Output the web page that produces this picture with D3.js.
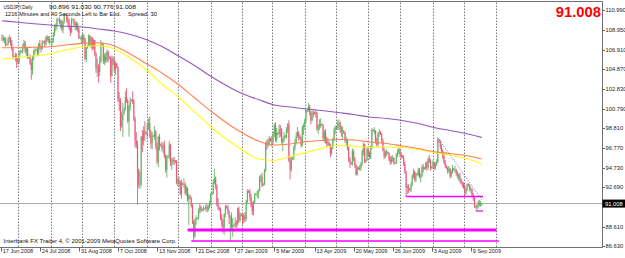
<!DOCTYPE html>
<html><head><meta charset="utf-8">
<script src="https://cdn.jsdelivr.net/npm/d3@7"></script>
<style>html,body{margin:0;padding:0;background:#fff;overflow:hidden}svg{display:block}</style>
</head><body><svg id="c" width="625" height="258"></svg>
<script>
// ---------- DATA ----------
const symbolTitle = "USDJPY,Daily";
const lastOHLC = ["90.896", "91.030", "90.776", "91.008"];
const lastPrice = 91.008;
const timerText = "1216 Minutes and 40 Seconds Left to Bar End.";
const spreadText = "Spread: 30";
const copyrightText = "Interbank FX Trader 4, \u00A9 2001-2009 MetaQuotes Software Corp.";
const firstBarDate = "2008-06-17"; // daily bars incl. Sunday sessions (no Saturdays)

const open = [
108.1,108.1,107.9,108.0,
107.4,107.5,108.0,108.1,107.6,107.0,
106.2,106.2,106.1,105.9,105.6,106.6,
106.7,106.7,107.2,107.6,106.7,107.0,
106.1,106.1,105.5,104.8,106.1,106.7,
106.9,106.9,106.5,107.5,107.1,107.0,
107.7,107.7,107.5,108.2,107.9,108.0,
107.7,107.7,107.7,108.5,109.3,109.3,
110.0,110.0,109.7,109.8,109.0,109.8,
110.5,110.5,110.0,109.7,109.2,108.7,
110.0,110.0,109.6,109.4,109.5,109.0,
108.1,108.1,107.9,108.3,108.0,105.9,
107.0,107.3,108.3,107.4,108.1,107.1,
107.9,106.5,105.0,105.1,104.6,105.7,
107.5,107.4,105.7,106.2,105.8,106.7,
106.1,106.0,104.2,106.0,105.8,104.8,
105.5,105.1,101.8,101.6,99.0,99.6,
100.3,100.8,102.0,101.6,99.5,101.0,
101.6,101.7,101.6,99.8,97.5,97.0,
94.5,93.0,93.0,97.9,97.5,98.5,
98.3,98.2,99.1,99.3,98.3,97.2,
98.0,98.0,98.4,96.9,95.3,97.9,
97.1,97.0,96.7,97.0,95.9,94.5,
95.8,95.9,97.1,95.3,95.3,95.5,
95.4,95.3,93.2,93.3,93.3,92.0,
93.1,93.0,93.0,92.1,92.6,91.4,
91.8,91.6,90.8,89.1,87.6,89.3,
89.5,89.5,90.3,90.7,90.3,90.4,
90.5,90.5,90.7,90.4,90.6,91.0,
92.0,92.1,93.2,93.6,92.8,91.0,
90.6,90.4,89.6,88.9,88.5,89.9,
90.7,90.6,90.2,89.6,89.6,88.6,
88.7,88.8,89.0,88.9,90.5,89.3,
89.9,89.8,89.3,89.8,89.4,91.2,
92.3,92.2,91.7,90.8,90.2,91.2,
92.0,92.0,92.0,92.4,93.7,93.8,
92.9,93.0,94.5,97.3,97.1,97.5,
97.7,97.5,97.4,98.2,99.1,97.6,
98.3,98.2,98.7,98.6,97.4,97.6,
98.0,97.9,98.6,99.2,95.4,94.5,
95.6,95.7,96.8,97.4,98.0,98.3,
98.0,97.7,97.0,98.9,99.0,99.6,
100.5,100.7,101.0,100.4,99.6,100.1,
100.4,100.3,100.4,98.7,99.0,99.2,
99.2,99.1,97.7,98.4,97.5,97.2,
97.3,97.0,96.2,96.8,97.6,98.6,
98.8,98.9,99.3,99.3,98.7,98.5,
98.5,98.3,97.5,97.5,96.8,95.6,
95.2,95.1,96.4,95.6,94.9,94.0,
94.7,94.6,94.7,95.1,96.4,97.1,
95.3,95.5,96.7,96.2,95.8,96.8,
98.6,98.5,98.5,97.4,97.1,98.2,
98.4,98.2,97.5,96.5,95.9,96.3,
96.3,96.2,95.6,95.3,95.6,95.7,
95.2,95.2,96.1,96.4,96.6,96.1,
95.9,95.8,95.1,94.3,92.6,92.7,
92.5,92.4,93.0,93.9,94.3,93.5,
94.1,94.0,94.5,93.8,93.9,94.8,
94.6,94.7,95.2,94.7,95.6,95.4,
94.7,94.8,95.2,94.7,95.1,95.3,
97.6,97.4,96.9,96.4,95.9,95.3,
94.9,94.7,94.4,94.6,93.9,94.3,
94.6,94.5,94.5,94.2,93.9,93.9,
93.6,93.1,93.0,92.8,92.1,92.5,
93.0,92.9,92.5,92.5,91.9,91.6,
90.7,90.6,90.9,91.1,90.9,90.896];

const high = [
108.5,108.4,108.2,108.2,
107.5,108.2,108.4,108.2,107.9,107.2,
106.3,106.6,106.5,106.1,106.8,106.9,
106.8,107.5,107.9,107.8,107.2,107.1,
106.2,106.4,105.9,106.3,106.9,107.1,
107.0,107.1,107.6,107.9,107.3,107.9,
107.8,107.9,108.3,108.4,108.3,108.3,
107.8,108.1,108.7,109.5,109.6,110.2,
110.1,110.3,110.0,110.0,109.9,110.7,
110.6,110.6,110.3,110.1,109.4,110.2,
110.1,110.1,109.8,109.8,109.7,109.2,
108.2,108.4,108.6,108.5,108.1,107.2,
107.4,108.5,108.4,108.3,108.2,108.0,
107.9,106.6,106.0,105.4,106.2,107.9,
107.6,107.6,106.5,106.6,106.9,106.8,
106.2,106.2,106.3,106.2,106.0,105.7,
105.5,105.2,102.5,101.9,100.5,101.4,
100.9,102.6,102.9,101.8,101.2,102.0,
101.8,102.6,101.8,100.0,98.4,97.5,
94.6,94.3,98.0,98.6,99.0,99.5,
98.4,99.3,99.8,100.0,98.6,98.4,
98.1,99.0,98.6,97.3,98.0,98.2,
97.2,97.4,97.3,97.5,96.1,96.0,
96.0,97.5,97.2,95.7,95.8,95.8,
95.5,95.5,93.6,93.8,93.4,93.5,
93.2,93.6,93.2,92.9,92.7,92.0,
91.9,91.7,91.0,89.3,89.5,89.8,
89.6,90.5,91.0,90.8,90.5,90.8,
90.6,91.0,90.9,90.9,91.3,92.1,
92.2,93.5,94.6,93.8,93.0,91.6,
90.7,90.6,89.9,89.4,90.0,90.9,
90.8,90.9,90.3,89.8,90.1,89.5,
88.9,89.6,89.3,90.6,90.7,90.1,
90.0,89.9,90.0,90.1,91.4,92.5,
92.4,92.5,92.0,91.2,91.3,92.1,
92.1,92.3,92.5,93.9,94.0,94.2,
93.1,94.6,97.4,97.6,97.8,98.0,
97.8,98.0,98.4,99.3,99.4,98.8,
98.4,99.2,99.1,98.8,97.8,98.4,
98.1,98.9,99.3,99.6,95.8,95.9,
95.8,97.0,97.7,98.4,98.9,98.5,
98.1,97.9,99.1,99.3,99.8,100.7,
100.8,101.4,101.2,100.6,100.6,100.7,
100.5,100.7,100.5,99.2,99.7,99.8,
99.3,99.2,98.6,98.7,97.9,97.8,
97.4,97.2,97.0,97.8,98.9,99.1,
99.0,99.6,99.7,99.5,99.0,99.0,
98.6,98.4,97.9,97.7,96.9,95.8,
95.3,96.7,96.6,95.8,95.1,94.9,
94.8,95.0,95.3,96.6,97.3,97.2,
95.6,96.9,96.9,96.4,97.0,98.8,
98.7,98.9,98.6,97.8,98.4,98.7,
98.5,98.3,97.7,96.8,96.5,96.6,
96.4,96.3,95.9,95.9,96.0,95.8,
95.3,96.2,96.6,96.8,96.7,96.3,
96.0,96.0,95.3,94.4,93.0,93.0,
92.6,93.2,94.0,94.6,94.4,94.2,
94.2,94.7,94.7,94.1,95.0,95.1,
94.8,95.3,95.4,95.8,96.0,95.6,
94.9,95.5,95.3,95.3,95.6,97.8,
97.7,97.6,97.1,96.6,96.2,95.5,
95.0,94.8,94.9,94.7,94.5,95.0,
94.7,94.9,94.6,94.4,94.1,94.2,
93.6,93.3,93.2,93.0,92.7,93.1,
93.1,93.0,92.8,92.6,92.1,91.8,
90.8,90.9,91.3,91.4,91.3,91.030];

const low = [
107.8,107.7,107.5,107.2,
107.3,107.3,107.6,107.3,106.8,105.9,
106.1,105.7,105.0,105.4,105.4,106.4,
106.6,106.5,107.0,106.5,106.2,105.9,
106.0,105.3,103.8,104.3,105.8,106.4,
106.8,106.2,106.3,106.9,106.6,106.9,
107.6,107.2,107.3,107.7,107.6,107.4,
107.6,107.3,107.6,108.3,108.8,109.0,
109.9,109.5,109.1,108.8,108.6,109.6,
110.4,109.7,109.3,108.9,108.3,108.6,
109.9,109.3,108.9,108.9,108.7,108.0,
108.0,107.5,107.6,107.6,105.8,105.6,
107.0,107.2,107.2,107.0,106.8,106.9,
106.2,104.5,104.1,103.5,104.2,105.5,
107.3,105.4,105.3,105.5,105.6,105.6,
105.9,103.5,104.1,105.3,104.6,104.3,
105.0,101.5,100.6,98.5,98.8,97.9,
100.2,100.6,101.4,99.3,97.9,100.6,
101.5,101.3,99.5,96.8,96.7,90.9,
92.6,92.5,92.8,96.3,97.0,97.5,
98.1,97.7,98.6,97.8,96.7,96.6,
97.9,97.6,96.6,95.1,94.8,96.5,
96.9,96.4,96.2,95.7,94.2,93.7,
95.7,95.6,94.9,94.5,95.0,95.0,
95.2,93.0,92.8,92.9,91.9,91.5,
92.9,92.6,91.9,91.8,91.2,88.8,
91.5,90.6,88.9,87.1,87.5,88.8,
89.4,89.3,90.0,90.1,90.2,90.2,
90.4,90.2,90.1,90.2,90.5,90.8,
91.9,91.9,93.0,92.5,90.7,90.3,
90.3,89.3,88.6,88.0,87.8,89.6,
90.5,89.9,88.9,87.1,88.4,87.6,
88.6,88.5,88.5,88.7,89.0,89.1,
89.7,88.9,89.0,89.1,89.2,91.0,
92.1,91.3,90.6,89.8,89.8,91.0,
91.9,91.6,91.5,92.3,93.2,92.7,
92.8,92.9,94.3,96.6,96.8,97.0,
97.4,96.9,97.1,97.9,97.4,97.3,
98.1,97.8,97.9,97.2,96.4,97.3,
97.8,97.7,98.3,95.3,93.5,94.3,
95.5,95.5,96.5,97.1,97.8,97.5,
97.6,96.8,96.9,98.1,98.6,99.3,
100.4,100.5,100.1,99.2,99.5,99.9,
100.2,99.9,98.5,98.2,98.6,98.8,
99.0,97.6,97.3,97.2,96.9,96.9,
96.9,95.8,96.0,96.6,97.4,98.2,
98.7,98.6,98.6,98.3,97.9,97.6,
98.2,97.3,96.9,96.5,95.3,94.7,
95.0,94.9,95.4,94.7,93.9,93.9,
94.5,94.4,94.4,94.9,96.0,95.2,
95.2,95.4,95.9,95.6,95.6,96.6,
98.4,98.2,97.2,96.9,96.9,97.9,
98.1,97.3,96.4,95.6,95.7,95.9,
96.1,95.4,95.0,95.1,95.3,95.0,
95.1,95.1,95.8,96.1,95.8,95.6,
95.7,94.9,94.1,91.7,92.0,92.1,
92.3,92.2,92.8,93.6,93.3,93.2,
93.9,93.8,93.6,93.2,93.7,94.2,
94.5,94.5,94.4,94.5,95.2,94.4,
94.6,94.6,94.5,94.5,94.9,95.2,
97.3,96.6,96.1,95.6,95.1,94.7,
94.6,94.1,94.2,93.6,93.7,94.1,
94.4,94.2,93.9,93.6,93.4,93.2,
93.0,92.7,92.5,91.9,91.9,92.3,
92.8,92.3,92.1,91.7,91.3,90.6,
90.5,90.2,90.5,90.7,90.7,90.776];

const close = [
108.1,107.9,108.0,107.4,
107.5,108.0,108.1,107.6,107.0,106.2,
106.2,106.1,105.9,105.6,106.6,106.7,
106.7,107.2,107.6,106.7,107.0,106.1,
106.1,105.5,104.8,106.1,106.7,106.9,
106.9,106.5,107.5,107.1,107.0,107.7,
107.7,107.5,108.2,107.9,108.0,107.7,
107.7,107.7,108.5,109.3,109.3,110.0,
110.0,109.7,109.8,109.0,109.8,110.5,
110.5,110.0,109.7,109.2,108.7,110.0,
110.0,109.6,109.4,109.5,109.0,108.1,
108.1,107.9,108.3,108.0,105.9,107.0,
107.3,108.3,107.4,108.1,107.1,107.9,
106.5,105.0,105.1,104.6,105.7,107.5,
107.4,105.7,106.2,105.8,106.7,106.1,
106.0,104.2,106.0,105.8,104.8,105.5,
105.1,101.8,101.6,99.0,99.6,100.3,
100.8,102.0,101.6,99.5,101.0,101.6,
101.7,101.6,99.8,97.5,97.0,94.5,
93.0,93.0,97.9,97.5,98.5,98.3,
98.2,99.1,99.3,98.3,97.2,98.0,
98.0,98.4,96.9,95.3,97.9,97.1,
97.0,96.7,97.0,95.9,94.5,95.8,
95.9,97.1,95.3,95.3,95.5,95.4,
95.3,93.2,93.3,93.3,92.0,93.1,
93.0,93.0,92.1,92.6,91.4,91.8,
91.6,90.8,89.1,87.6,89.3,89.5,
89.5,90.3,90.7,90.3,90.4,90.5,
90.5,90.7,90.4,90.6,91.0,92.0,
92.1,93.2,93.6,92.8,91.0,90.6,
90.4,89.6,88.9,88.5,89.9,90.7,
90.6,90.2,89.6,89.6,88.6,88.7,
88.8,89.0,88.9,90.5,89.3,89.9,
89.8,89.3,89.8,89.4,91.2,92.3,
92.2,91.7,90.8,90.2,91.2,92.0,
92.0,92.0,92.4,93.7,93.8,92.9,
93.0,94.5,97.3,97.1,97.5,97.7,
97.5,97.4,98.2,99.1,97.6,98.3,
98.2,98.7,98.6,97.4,97.6,98.0,
97.9,98.6,99.2,95.4,94.5,95.6,
95.7,96.8,97.4,98.0,98.3,98.0,
97.7,97.0,98.9,99.0,99.6,100.5,
100.7,101.0,100.4,99.6,100.1,100.4,
100.3,100.4,98.7,99.0,99.2,99.2,
99.1,97.7,98.4,97.5,97.2,97.3,
97.0,96.2,96.8,97.6,98.6,98.8,
98.9,99.3,99.3,98.7,98.5,98.5,
98.3,97.5,97.5,96.8,95.6,95.2,
95.1,96.4,95.6,94.9,94.0,94.7,
94.6,94.7,95.1,96.4,97.1,95.3,
95.5,96.7,96.2,95.8,96.8,98.6,
98.5,98.5,97.4,97.1,98.2,98.4,
98.2,97.5,96.5,95.9,96.3,96.3,
96.2,95.6,95.3,95.6,95.7,95.2,
95.2,96.1,96.4,96.6,96.1,95.9,
95.8,95.1,94.3,92.6,92.7,92.5,
92.4,93.0,93.9,94.3,93.5,94.1,
94.0,94.5,93.8,93.9,94.8,94.6,
94.7,95.2,94.7,95.6,95.4,94.7,
94.8,95.2,94.7,95.1,95.3,97.6,
97.4,96.9,96.4,95.9,95.3,94.9,
94.7,94.4,94.6,93.9,94.3,94.6,
94.5,94.5,94.2,93.9,93.9,93.6,
93.1,93.0,92.8,92.1,92.5,93.0,
92.9,92.5,92.5,91.9,91.6,90.7,
90.6,90.9,91.1,90.9,90.9,91.008];

// moving averages, read at these bar numbers
const maBar  = [0,13,26,39,52,66,79,92,105,118,131,144,157,170,183,197,210,223,236,249,262,275,288,301,315,328,341,354,367,380,390,393];
const maSlow = [109.88,109.72,109.57,109.44,109.31,109.24,109.03,108.82,108.46,107.95,107.22,106.29,105.31,104.23,103.25,102.34,101.75,101.18,100.98,100.77,100.62,100.41,100.20,99.95,99.79,99.58,99.27,98.86,98.55,98.24,97.93,97.83];
const maMid  = [107.10,107.10,107.15,107.20,107.38,107.55,107.61,107.27,106.45,105.47,104.49,103.35,102.01,100.67,99.43,98.29,97.47,97.06,97.16,97.40,97.52,97.62,97.57,97.37,97.21,96.95,96.69,96.36,96.18,95.97,95.71,95.61];
const maFast = [105.93,106.09,106.26,106.45,106.86,107.20,107.30,106.96,106.04,104.85,103.35,102.06,100.57,99.07,97.73,96.54,95.61,95.46,95.87,96.28,96.69,97.00,96.95,96.80,96.85,96.80,96.59,96.28,96.02,95.66,95.25,95.09];

const timeLabels = ["17 Jun 2008","24 Jul 2008","31 Aug 2008","7 Oct 2008","13 Nov 2008","21 Dec 2008","27 Jan 2009","5 Mar 2009","13 Apr 2009","20 May 2009","26 Jun 2009","3 Aug 2009","9 Sep 2009"];
const priceTicks = [110.990,108.950,106.910,104.870,102.830,100.790,98.810,96.770,94.730,92.690,88.610,86.630];

// horizontal objects drawn on the chart
const levelPrice = [88.28, 87.15, 91.74, 90.24];
const levelFrom  = ["2008-12-11","2008-12-15","2009-07-08","2009-09-13"];
const levelTo    = ["2009-10-02","2009-10-05","2009-09-20","2009-09-20"];
const trendDates  = ["2009-08-07","2009-09-18"];
const trendPrices = [97.8, 91.4];

// ---------- DRAW ----------
const svg = d3.select("#c");
const W = 625, H = 258;
const left = 0, plotRight = 602, plotTop = 1.5, plotBottom = 247.5;
svg.append("rect").attr("width", W).attr("height", H).attr("fill", "#fff");

const parseISO = d3.timeParse("%Y-%m-%d");
const parseLbl = d3.timeParse("%d %b %Y");
const start = parseISO(firstBarDate);
function barOf(date) { // bar number of the first bar on/after date (Saturdays have no bar)
  let n = 0;
  for (let t = new Date(start); t < date; t.setDate(t.getDate() + 1)) if (t.getDay() !== 6) n++;
  return n;
}
const N = close.length;
const x = d3.scaleLinear().domain([0, N - 1]).range([2, 481.8]);
const y = d3.scaleLinear().domain([86.63, 110.99]).range([246, 10]);

const FONT = "'Liberation Sans', Arial, sans-serif";

// month grid (dotted)
const months = d3.timeMonth.range(new Date(2008, 6, 1), new Date(2009, 10, 1));
svg.append("g").selectAll("line").data(months).join("line")
  .attr("x1", d => Math.round(x(barOf(d)) + 1) + 0.5).attr("x2", d => Math.round(x(barOf(d)) + 1) + 0.5)
  .attr("y1", plotTop + 1).attr("y2", plotBottom)
  .attr("stroke", "#7c7c7c").attr("stroke-width", 1).attr("stroke-dasharray", "1.5,1.5");

// current price line
svg.append("line").attr("x1", left).attr("x2", plotRight).attr("y1", y(lastPrice)).attr("y2", y(lastPrice))
  .attr("stroke", "#a8a8a8").attr("stroke-width", 1);

// candles
const idx = d3.range(N);
const bull = i => close[i] >= open[i];
const cg = svg.append("g");
cg.selectAll("rect").data(idx).join("rect")
  .attr("x", i => x(i) - 0.7).attr("width", 1.4)
  .attr("y", i => y(Math.max(open[i], close[i])))
  .attr("height", i => Math.max(0.6, Math.abs(y(open[i]) - y(close[i]))))
  .attr("fill", i => bull(i) ? "#a3d8a3" : "#f5a6ba");
cg.selectAll("line").data(idx).join("line")
  .attr("x1", i => x(i)).attr("x2", i => x(i))
  .attr("y1", i => y(high[i])).attr("y2", i => y(low[i]))
  .attr("stroke", i => bull(i) ? "#43a443" : "#e3375f").attr("stroke-width", 0.75);

// moving averages
const maLine = vals => d3.line().x((d, k) => x(maBar[k])).y(d => y(d)).curve(d3.curveMonotoneX)(vals);
[[maFast, "#ffff10"], [maMid, "#ff8050"], [maSlow, "#9356c2"]].forEach(([vals, col]) => {
  svg.append("path").attr("d", maLine(vals)).attr("fill", "none").attr("stroke", col).attr("stroke-width", 1.1);
});

// horizontal level objects
const lw = [3, 1.4, 1.6, 1.2];
levelPrice.forEach((p, k) => {
  svg.append("line")
    .attr("x1", x(barOf(parseISO(levelFrom[k])))).attr("x2", x(barOf(parseISO(levelTo[k]))))
    .attr("y1", y(p)).attr("y2", y(p))
    .attr("stroke", "#ff00ff").attr("stroke-width", lw[k]);
});
// dotted trend line
svg.append("line")
  .attr("x1", x(barOf(parseISO(trendDates[0])))).attr("y1", y(trendPrices[0]))
  .attr("x2", x(barOf(parseISO(trendDates[1])))).attr("y2", y(trendPrices[1]))
  .attr("stroke", "#6464f0").attr("stroke-width", 1).attr("stroke-dasharray", "1,1.6");

// frame
svg.append("line").attr("x1", 0).attr("x2", plotRight + 0.5).attr("y1", plotTop).attr("y2", plotTop).attr("stroke", "#707070");
svg.append("line").attr("x1", 0).attr("x2", plotRight + 0.5).attr("y1", plotBottom).attr("y2", plotBottom).attr("stroke", "#707070");
svg.append("line").attr("x1", plotRight + 0.5).attr("x2", plotRight + 0.5).attr("y1", plotTop).attr("y2", plotBottom).attr("stroke", "#707070");

// price axis
const pa = svg.append("g");
priceTicks.forEach(v => {
  pa.append("line").attr("x1", plotRight + 0.5).attr("x2", plotRight + 3).attr("y1", Math.round(y(v)) + 0.5).attr("y2", Math.round(y(v)) + 0.5).attr("stroke", "#606060");
  pa.append("text").attr("x", plotRight + 3.5).attr("y", y(v) + 2.1).text(v.toFixed(3))
    .attr("font-family", FONT).attr("font-size", 5.8).attr("fill", "#222");
});
pa.append("rect").attr("x", plotRight + 0.5).attr("y", y(lastPrice) - 4).attr("width", 23).attr("height", 8).attr("fill", "#000");
pa.append("text").attr("x", plotRight + 3).attr("y", y(lastPrice) + 2.1).text(lastPrice.toFixed(3))
  .attr("font-family", FONT).attr("font-size", 5.8).attr("fill", "#fff");

// time axis
const ta = svg.append("g");
timeLabels.forEach(s => {
  const xi = x(barOf(parseLbl(s)));
  ta.append("line").attr("x1", Math.round(xi) - 0.5).attr("x2", Math.round(xi) - 0.5).attr("y1", plotBottom).attr("y2", plotBottom + 4).attr("stroke", "#606060");
  ta.append("text").attr("x", xi + 0.8).attr("y", 253).text(s)
    .attr("font-family", FONT).attr("font-size", 5.5).attr("fill", "#222");
});

// header texts
const txt = (s, xx, yy, len, size) => {
  const t = svg.append("text").attr("x", xx).attr("y", yy).text(s)
    .attr("font-family", FONT).attr("font-size", size).attr("fill", "#111");
  if (len) t.attr("textLength", len).attr("lengthAdjust", "spacingAndGlyphs");
  return t;
};
txt(symbolTitle, 3.5, 9, 29, 6);
txt(lastOHLC.join(" "), 49, 9, 87, 6);
txt(timerText, 5, 16, 116, 5.8);
txt(spreadText, 128, 16, 29, 5.8);
txt(copyrightText, 3.5, 243, 173, 6);

// big last price
svg.append("text").attr("x", 601).attr("y", 17.3).attr("text-anchor", "end").text(lastPrice.toFixed(3))
  .attr("font-family", FONT).attr("font-weight", "bold").attr("font-size", 14.8).attr("fill", "#ff0000");
</script>
</body></html>
